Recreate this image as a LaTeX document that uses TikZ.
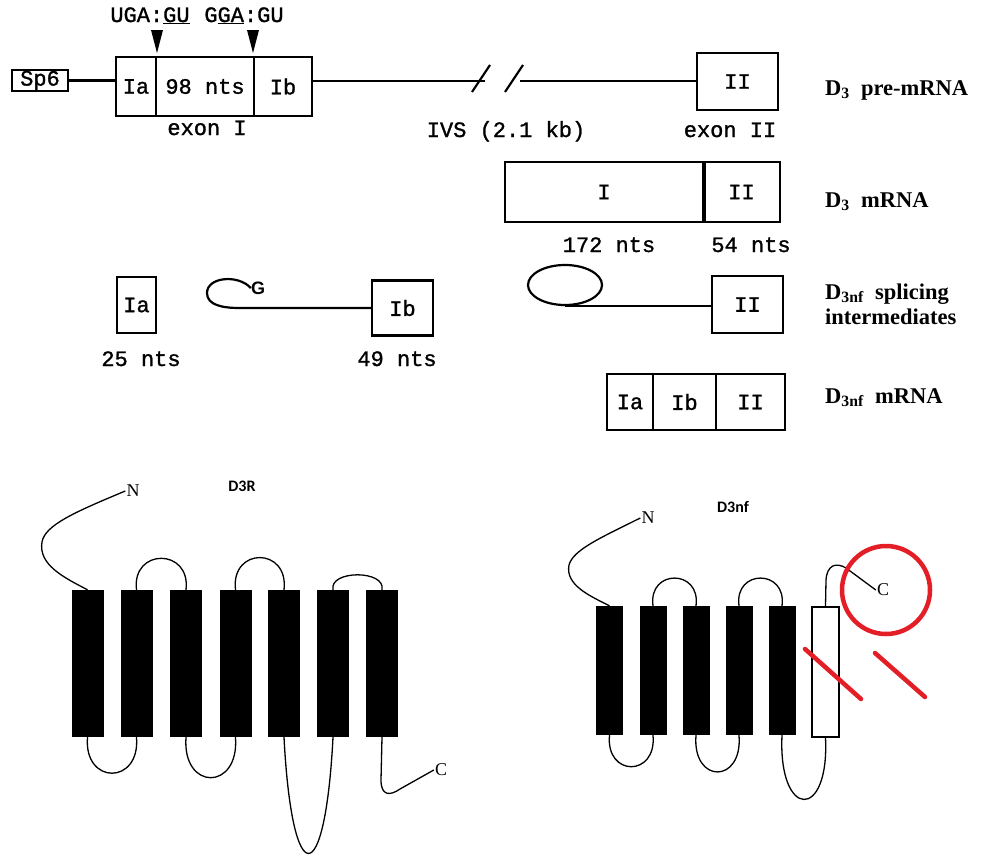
\documentclass[tikz,border=0pt]{standalone}
\usepackage{fontspec}
\usetikzlibrary{shapes.geometric}
\newfontfamily\monof{Liberation Mono}[FakeBold=1.2]
\newfontfamily\seriff{Liberation Serif}
\newfontfamily\sansf{Liberation Sans}
\newfontfamily\calib{Carlito}
\definecolor{markred}{RGB}{228,30,38}
\tikzset{
  seg/.style={draw, line width=2.2pt, inner sep=0pt, font=\monof\fontsize{22}{22}\selectfont},
  mono/.style={font=\monof\fontsize{22}{22}\selectfont, inner sep=0pt, anchor=base},
  lab/.style={font=\seriff\bfseries\fontsize{22.5}{23}\selectfont, anchor=base west, inner sep=0pt},
  wire/.style={line width=2.2pt},
  tm/.style={fill=black, inner sep=0pt, minimum width=32pt, minimum height=147pt},
  tmb/.style={fill=black, inner sep=0pt, minimum width=27pt, minimum height=129pt},
  loopline/.style={line width=1.3pt},
  term/.style={font=\seriff\fontsize{18}{18}\selectfont, inner sep=1pt},
  protlab/.style={font=\calib\bfseries\fontsize{16}{16}\selectfont, inner sep=0pt},
  redmark/.style={draw=markred, line width=4.5pt, line cap=round}
}
\begin{document}
\begin{tikzpicture}[x=1pt,y=-1pt]
\fill[white] (0,0) rectangle (982,854);
\useasboundingbox (0,0) rectangle (982,854);

% ---------- D3 pre-mRNA ----------
\node[seg, minimum width=56pt, minimum height=21pt] (sp6) at (40,80.5) {Sp6};
\node[seg, minimum width=40pt, minimum height=59pt] (ia) at (136,86.5) {Ia};
\node[seg, minimum width=98pt, minimum height=59pt] (mid) at (205,86.5) {98 nts};
\node[seg, minimum width=58pt, minimum height=59pt] (ib) at (283,86.5) {Ib};
\node[seg, minimum width=81pt, minimum height=57pt] (ex2) at (737.5,81.5) {II};
\coordinate (brk1) at (485,81);
\coordinate (brk2) at (520,81);
\draw[wire] (sp6.east) -- (sp6.east -| ia.west);
\draw[wire] (brk1 -| ib.east) -- (brk1);
\draw[wire] (brk2) -- (brk2 -| ex2.west);
\draw[wire] (472,92) -- (490,65);
\draw[wire] (505,92) -- (523,65);
\node[mono] (sd1) at (150,22) {UGA:\underline{GU}};
\node[mono] (sd2) at (244,22) {G\underline{GA}:GU};
\fill (151,30) -- (163,30) -- (157,53) -- cycle;
\fill (247,30) -- (259,30) -- (253,53) -- cycle;
\node[mono] (exI) at (207,135) {exon I};
\node[mono] (ivs) at (506,137) {IVS (2.1 kb)};
\node[mono] (exII) at (730,137) {exon II};

% ---------- D3 mRNA ----------
\node[seg, minimum width=198pt, minimum height=60pt] (mI) at (604,192) {I};
\node[seg, minimum width=77pt, minimum height=60pt] (mII) at (741.5,192) {II};
\draw[line width=4.5pt] (mI.north east) -- (mI.south east);
\node[mono] (n172) at (609,252) {172 nts};
\node[mono] (n54) at (751,252) {54 nts};

% ---------- splicing intermediates ----------
\node[seg, minimum width=39pt, minimum height=56pt] (ia2) at (136.5,305) {Ia};
\node[mono] (n25) at (141,366) {25 nts};
\node[font=\sansf\bfseries\fontsize{18}{18}\selectfont, inner sep=0pt] (g) at (258,288) {G};
\node[seg, minimum width=61pt, minimum height=55pt] (ib2) at (402.5,308) {Ib};
\draw[wire] (g.west) .. controls (238,274) and (207,277) .. (207,293)
  .. controls (207,305) and (222,308) .. (240,308) -- (ib2.west);
\node[mono] (n49) at (397,366) {49 nts};
\node[ellipse, draw, line width=2.2pt, minimum width=74pt, minimum height=40pt, inner sep=0pt] (lar) at (565,285) {};
\node[seg, minimum width=71pt, minimum height=57pt] (ii2) at (747.5,304.5) {II};
\draw[wire] (lar.south) -- (lar.south -| ii2.west);

% ---------- D3nf mRNA ----------
\node[seg, minimum width=46pt, minimum height=56pt] (ia3) at (630,402) {Ia};
\node[seg, minimum width=63pt, minimum height=56pt] (ib3) at (684.5,402) {Ib};
\node[seg, minimum width=69pt, minimum height=56pt] (ii3) at (750.5,402) {II};

% ---------- right-hand labels ----------
\node[lab] (l1) at (825,95) {D\textsubscript{3}\ \ pre-mRNA};
\node[lab] (l2) at (825,207) {D\textsubscript{3}\ \ mRNA};
\node[lab] (l3) at (825,299) {D\textsubscript{3nf}\ \ splicing};
\node[lab] (l3b) at (825,324) {intermediates};
\node[lab] (l4) at (825,403) {D\textsubscript{3nf}\ \ mRNA};

% ---------- D3R protein ----------
\node[protlab] (d3r) at (242,486) {D3R};
\node[tm] (r1) at (87.5,663.5) {};
\node[tm] (r2) at (136.5,663.5) {};
\node[tm] (r3) at (186,663.5) {};
\node[tm] (r4) at (235.5,663.5) {};
\node[tm] (r5) at (284,663.5) {};
\node[tm] (r6) at (333,663.5) {};
\node[tm] (r7) at (382,663.5) {};
\node[term] (rn) at (133,491) {N};
\node[term] (rc) at (441,770) {C};
\draw[loopline] (r1.north) .. controls (65,578) and (38,565) .. (42,542)
  .. controls (45,525) and (75,512) .. (rn.west);
\draw[loopline] (r2.north) .. controls +(-5,-42) and +(5,-42) .. (r3.north);
\draw[loopline] (r4.north) .. controls +(-5,-43) and +(5,-43) .. (r5.north);
\draw[loopline] (r6.north) .. controls +(-4,-20) and +(4,-20) .. (r7.north);
\draw[loopline] (r1.south) .. controls +(-4,48) and +(4,48) .. (r2.south);
\draw[loopline] (r3.south) .. controls +(-4,54) and +(4,54) .. (r4.south);
\draw[loopline] (r5.south) .. controls +(8,155) and +(-8,155) .. (r6.south);
\draw[loopline] (r7.south) -- (381,780) .. controls (381,796) and (390,796) .. (400,789) -- (rc.west);

% ---------- D3nf protein ----------
\node[protlab] (d3nf) at (733,507) {D3nf};
\node[tmb] (q1) at (609.5,670.5) {};
\node[tmb] (q2) at (653,670.5) {};
\node[tmb] (q3) at (696,670.5) {};
\node[tmb] (q4) at (739,670.5) {};
\node[tmb] (q5) at (782,670.5) {};
\node[draw, line width=1.3pt, fill=white, inner sep=0pt, minimum width=27pt, minimum height=130pt] (q6) at (825.5,672) {};
\node[term] (qn) at (648,518) {N};
\node[term] (qc) at (883,590) {C};
\draw[loopline] (q1.north) .. controls (590,596) and (565,585) .. (569,565)
  .. controls (573,550) and (600,538) .. (qn.west);
\draw[loopline] (q2.north) .. controls +(-5,-37) and +(5,-37) .. (q3.north);
\draw[loopline] (q4.north) .. controls +(-5,-37) and +(5,-37) .. (q5.north);
\draw[loopline] (q1.south) .. controls +(-4,42) and +(4,42) .. (q2.south);
\draw[loopline] (q3.south) .. controls +(-4,49) and +(4,49) .. (q4.south);
\draw[loopline] (q5.south) .. controls +(-4,84) and +(4,84) .. (q6.south);
\draw[loopline] (q6.north) -- (826,580) .. controls (827,565) and (836,562) .. (846,568) -- (qc.west);

% ---------- red annotation ----------
\draw[redmark] (886,590) circle [radius=44pt];
\draw[redmark] (805,649) -- (861,699);
\draw[redmark] (875,653) -- (925,697);
\end{tikzpicture}
\end{document}
